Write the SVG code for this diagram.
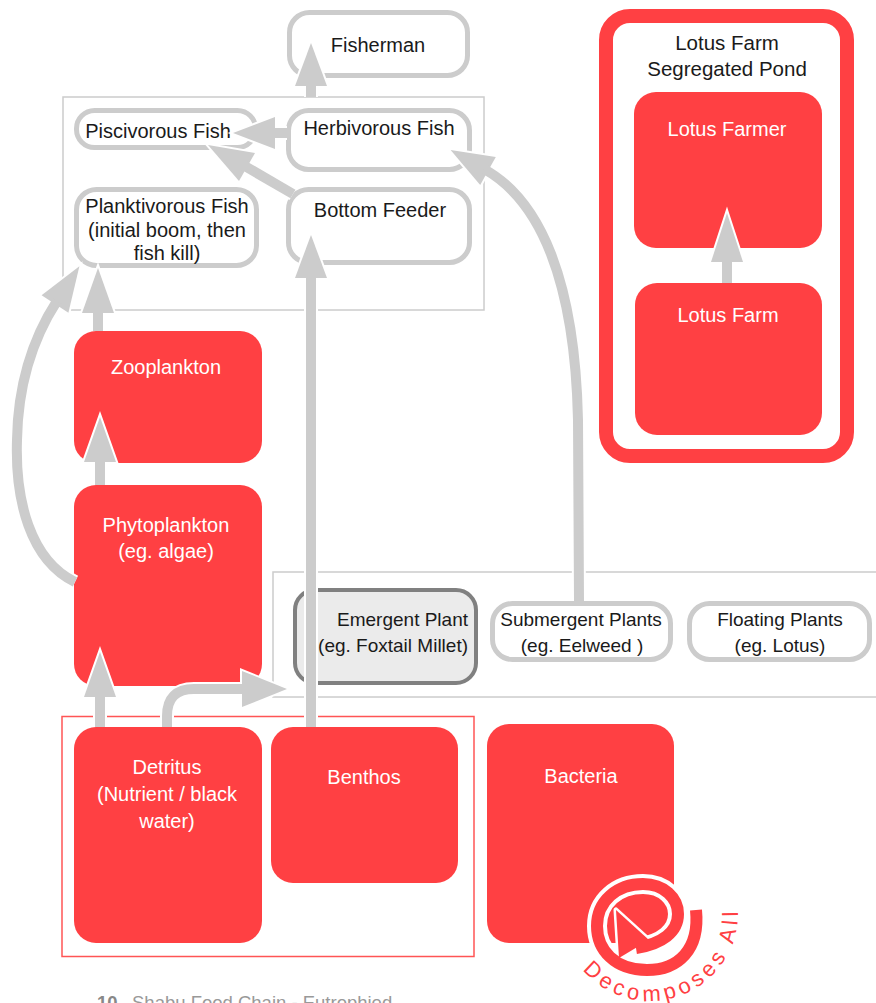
<svg xmlns="http://www.w3.org/2000/svg" width="876" height="1003" viewBox="0 0 876 1003">
<style>
.gbox{fill:#fff;stroke:#ccc;stroke-width:5}
.rbox{fill:#FF4043}
.frame{fill:none;stroke:#ccc;stroke-width:1.5}
.t{font-family:"Liberation Sans",Arial,sans-serif;font-size:20px;fill:#1a1a1a;text-anchor:middle}
.p{font-size:19px}
.w{fill:#fff}
.case{fill:none;stroke:#fff;stroke-width:14}
.shaft{fill:none;stroke:#ccc;stroke-width:10}
.head{fill:#ccc;stroke:#fff;stroke-width:4;paint-order:stroke;stroke-linejoin:miter}
</style>
<rect width="876" height="1003" fill="#fff"/>

<!-- frames -->
<rect class="frame" x="63" y="97" width="421" height="213"/>
<rect class="frame" x="273" y="572" width="620" height="125"/>
<rect x="62" y="716.5" width="412" height="240" fill="none" stroke="#FF5555" stroke-width="1.5"/>

<!-- nodes -->
<g id="fisherman"><rect class="gbox" x="289.5" y="12.5" width="178" height="63" rx="20"/><text class="t" x="378" y="52">Fisherman</text></g>
<g id="piscivorous"><rect class="gbox" x="76.5" y="110.5" width="179" height="37" rx="18"/><text class="t" x="158" y="138">Piscivorous Fish</text></g>
<g id="herbivorous"><rect class="gbox" x="288.5" y="110.5" width="181" height="59" rx="20"/><text class="t" x="379" y="135">Herbivorous Fish</text></g>
<g id="planktivorous"><rect class="gbox" x="76.5" y="189.5" width="180" height="76" rx="20"/><text class="t" x="167" y="213">Planktivorous Fish</text><text class="t" x="167" y="237">(initial boom, then</text><text class="t" x="167" y="260">fish kill)</text></g>
<g id="bottomfeeder"><rect class="gbox" x="288.5" y="189.5" width="181" height="73" rx="20"/><text class="t" x="380" y="217">Bottom Feeder</text></g>

<g id="zooplankton"><rect class="rbox" x="74" y="331" width="188" height="132" rx="22"/><text class="t w" x="166" y="374">Zooplankton</text></g>
<g id="phytoplankton"><rect class="rbox" x="74" y="485" width="188" height="201" rx="22"/><text class="t w" x="166" y="532">Phytoplankton</text><text class="t w" x="166" y="558">(eg. algae)</text></g>
<g id="detritus"><rect class="rbox" x="74" y="727" width="188" height="216" rx="22"/><text class="t w" x="167" y="774">Detritus</text><text class="t w" x="167" y="801">(Nutrient / black</text><text class="t w" x="167" y="828">water)</text></g>
<g id="benthos"><rect class="rbox" x="271" y="727" width="187" height="156" rx="22"/><text class="t w" x="364" y="784">Benthos</text></g>
<g id="bacteria"><rect class="rbox" x="487" y="724" width="187" height="219" rx="22"/><text class="t w" x="581" y="783">Bacteria</text></g>

<g id="emergent"><rect x="295" y="590" width="181" height="93" rx="20" fill="#EBEBEB" stroke="#808080" stroke-width="4"/><text class="t p" x="468" y="626" style="text-anchor:end">Emergent Plant</text><text class="t p" x="468" y="652" style="text-anchor:end">(eg. Foxtail Millet)</text></g>
<g id="submergent"><rect class="gbox" x="492.5" y="603.5" width="178" height="56" rx="20"/><text class="t p" x="581" y="626">Submergent Plants</text><text class="t p" x="582" y="652">(eg. Eelweed )</text></g>
<g id="floating"><rect class="gbox" x="689.5" y="603.5" width="180" height="56" rx="20"/><text class="t p" x="780" y="626">Floating Plants</text><text class="t p" x="780" y="652">(eg. Lotus)</text></g>

<g id="lotus-pond"><rect x="606" y="16" width="241" height="440" rx="24" fill="#fff" stroke="#FF4043" stroke-width="14"/><text class="t" x="727" y="50" style="font-size:20.5px">Lotus Farm</text><text class="t" x="727" y="76" style="font-size:20.5px">Segregated Pond</text></g>
<g id="lotus-farmer"><rect class="rbox" x="634" y="92" width="188" height="156" rx="22"/><text class="t w" x="727" y="136">Lotus Farmer</text></g>
<g id="lotus-farm"><rect class="rbox" x="635" y="283" width="187" height="152" rx="22"/><text class="t w" x="728" y="322">Lotus Farm</text></g>

<!-- connectors -->
<g id="connectors">
<g>
<path class="case" d="M311 97V86"/>
<path class="case" d="M287 133H275"/>
<path class="case" d="M293 194L247 167"/>
<path class="case" d="M311 727V278"/>
<path class="case" d="M579 601L578 420C575 280 540 200 488 171"/>
<path class="case" d="M98 331V313"/>
<path class="case" d="M100 485V462"/>
<path class="case" d="M100 727V697"/>
<path class="case" d="M75 582C30 560 15 500 17 440C18 380 35 335 55 304"/>
<path class="case" d="M167 727V716Q167 689 194 689H242"/>
<path class="case" d="M727 283V262"/>
</g>
<g>
<polygon class="head" points="311,43 327,86 295,86"/>
<polygon class="head" points="233,133 275,117 275,149"/>
<polygon class="head" points="208,145 255,153 239,181"/>
<polygon class="head" points="311,235 327,278 295,278"/>
<polygon class="head" points="450.6,150 495.8,157.1 480.2,184.9"/>
<polygon class="head" points="98,268 114,313 82,313"/>
<polygon class="head" points="100,417 116,462 84,462"/>
<polygon class="head" points="100,652 116,697 84,697"/>
<polygon class="head" points="79.4,266.2 68.4,312.7 41.6,295.3"/>
<polygon class="head" points="287,689 242,671 242,707"/>
<polygon class="head" points="727,213 743,262 711,262"/>
</g>
<g>
<path class="shaft" d="M311 97V82"/>
<path class="shaft" d="M287 133H271"/>
<path class="shaft" d="M293 194L243 165"/>
<path class="shaft" d="M311 727V274"/>
<path class="shaft" d="M579 601L578 420C575 280 540 200 484 169"/>
<path class="shaft" d="M98 331V309"/>
<path class="shaft" d="M100 485V458"/>
<path class="shaft" d="M100 727V693"/>
<path class="shaft" d="M75 582C30 560 15 500 17 440C18 380 35 335 57 301"/>
<path class="shaft" d="M167 727V716Q167 689 194 689H246"/>
<path class="shaft" d="M727 283V258"/>
</g>
</g>

<!-- decomposes logo -->
<g id="decomposes">
<path d="M696 910C700 950 678 970 647 970C615 970 597 950 597 926C597 901 617 884 643 884C664 884 678 898 678 914C678 932 662 944 640 947" fill="none" stroke="#fff" stroke-width="20"/>
<polygon points="616,910 619,958 649,940" fill="#fff" stroke="#fff" stroke-width="5" stroke-linejoin="round"/>
<path d="M696 910C700 950 678 970 647 970C615 970 597 950 597 926C597 901 617 884 643 884C664 884 678 898 678 914C678 932 662 944 636 948" fill="none" stroke="#FF4043" stroke-width="12"/>
<polygon points="616,910 619,958 649,940" fill="#FF4043"/>
<path id="arc" d="M582.6 969.6A88 88 0 0 0 736.7 897.7" fill="none"/>
<text style="font-family:'Liberation Sans',Arial,sans-serif;font-size:22px;fill:#FF4043;letter-spacing:4.5px"><textPath href="#arc">Decomposes All</textPath></text>
</g>

<!-- footer -->
<text x="97" y="1009" style="font-family:'Liberation Sans',Arial,sans-serif;font-size:18.5px;fill:#999"><tspan style="font-weight:bold;fill:#888">10</tspan><tspan x="132">Shabu Food Chain - Eutrophied</tspan></text>
</svg>
